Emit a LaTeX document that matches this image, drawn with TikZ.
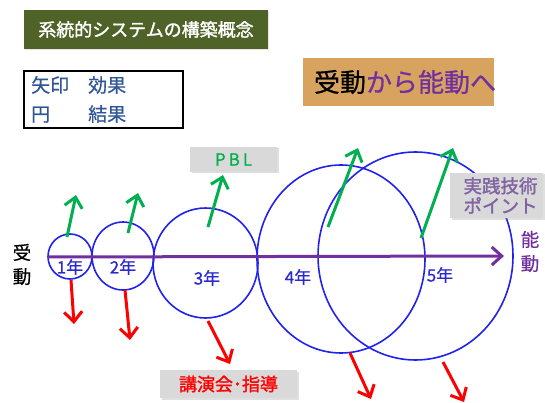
\documentclass[tikz,border=0pt]{standalone}
\usepackage{fontspec}
\setmainfont{Noto Sans CJK JP}[FakeBold=0.6]
\newfontfamily\heavy{Noto Sans CJK JP}[FakeBold=1.6]
\usetikzlibrary{arrows.meta,shapes.geometric,shadows}
\definecolor{titlegreen}{HTML}{4F6228}
\definecolor{corkfill}{HTML}{D8A35E}
\definecolor{axispurple}{HTML}{7030A0}
\definecolor{textpurple}{HTML}{8064A2}
\definecolor{circblue}{HTML}{2222EE}
\definecolor{yearblue}{HTML}{2A2AD0}
\definecolor{legendblue}{HTML}{2F5597}
\definecolor{effgreen}{HTML}{00B050}
\definecolor{effred}{HTML}{FF0000}
\definecolor{boxgray}{HTML}{D9D9D9}
\begin{document}
\begin{tikzpicture}[x=1pt,y=-1pt,
  yearcirc/.style={ellipse, draw=circblue, line width=1.6pt, inner sep=0pt},
  yearlabel/.style={text=yearblue, font=\fontsize{17}{17}\selectfont, inner sep=0pt},
  greenarr/.style={draw=effgreen, line width=3pt, -{Straight Barb[length=10pt,width=18pt]}},
  redarr/.style={draw=effred, line width=3pt, -{Straight Barb[length=10pt,width=18pt]}},
  graybox/.style={fill=boxgray, inner sep=0pt, drop shadow={shadow xshift=1.5pt, shadow yshift=-1.5pt, opacity=0.25}},
  sidelabel/.style={font=\fontsize{18.5}{24}\selectfont, align=center, inner sep=0pt}
]
\useasboundingbox[fill=white] (0,0) rectangle (545,403);

% title
\node[fill=titlegreen, minimum width=244pt, minimum height=39pt, inner sep=0pt,
      drop shadow={shadow xshift=1pt, shadow yshift=-1.5pt, opacity=0.2},
      text=white, font=\heavy\fontsize{18}{18}\selectfont] (title) at (146,29.5) {系統的システムの構築概念};

% legend
\node[draw=black, line width=1.2pt, minimum width=159pt, minimum height=57pt, inner sep=0pt] (legend) at (103.5,99.5) {};
\node[anchor=west, inner sep=0pt, text=legendblue, font=\fontsize{19}{19}\selectfont] (leg1) at (31,85) {矢印　効果};
\node[anchor=west, inner sep=0pt, text=legendblue, font=\fontsize{19}{19}\selectfont] (leg2) at (31,114) {円　　結果};

% passive to active
\node[fill=corkfill, minimum width=191pt, minimum height=48pt, inner sep=0pt] (motto) at (398.5,82) {};
\node[inner sep=0pt, font=\fontsize{26}{26}\selectfont] (mottotext) at (405,82) {受動\textcolor{axispurple}{から能動へ}};

% circles
\node[yearcirc, minimum width=44pt, minimum height=45pt] (c1) at (70,256.5) {};
\node[yearcirc, minimum width=62pt, minimum height=68pt] (c2) at (123,256) {};
\node[yearcirc, minimum width=105pt, minimum height=110pt] (c3) at (205.5,263) {};
\node[yearcirc, minimum width=168pt, minimum height=188pt] (c4) at (341,259) {};
\node[yearcirc, minimum width=195pt, minimum height=208pt] (c5) at (415.5,256) {};

% axis
\coordinate (axs) at (48,257);
\coordinate (axe) at (504,256);
\draw[draw=axispurple, line width=3pt, -{Straight Barb[length=10pt,width=18pt]}] (axs) -- (axe);

% year labels
\node[yearlabel] (y1) at (70,267) {1年};
\node[yearlabel] (y2) at (123,267) {2年};
\node[yearlabel] (y3) at (207,278) {3年};
\node[yearlabel] (y4) at (298,277) {4年};
\node[yearlabel] (y5) at (440,275) {5年};

% side labels
\node[sidelabel] (passive) at (22,264.5) {受\\動};
\node[sidelabel, text=axispurple] (active) at (530,251.5) {能\\動};

% boxes
\node[graybox, minimum width=87pt, minimum height=25pt, text=effgreen, font=\fontsize{17}{17}\selectfont] (pbl) at (233.5,159.5) {P\kern3pt B\kern3pt L};
\node[graybox, minimum width=93pt, minimum height=45pt, text=textpurple, align=center, font=\heavy\fontsize{18.5}{20}\selectfont] (jissen) at (496.5,195.5) {\hspace*{8pt}実践技術\\\hspace*{8pt}ポイント};
\node[graybox, minimum width=137pt, minimum height=28pt, text=effred, font=\heavy\fontsize{18}{18}\selectfont] (kouen) at (228.5,384) {講演会･指導};

% green arrows
\coordinate (g1s) at (67,237);  \coordinate (g1e) at (76,195);
\coordinate (g2s) at (128,233); \coordinate (g2e) at (138,193);
\coordinate (g3s) at (208,227); \coordinate (g3e) at (223,175);
\coordinate (g4s) at (328,227); \coordinate (g4e) at (358,148);
\coordinate (g5s) at (421,238); \coordinate (g5e) at (453,148);
\draw[greenarr] (g1s) -- (g1e);
\draw[greenarr] (g2s) -- (g2e);
\draw[greenarr] (g3s) -- (g3e);
\draw[greenarr] (g4s) -- (g4e);
\draw[greenarr] (g5s) -- (g5e);

% red arrows
\coordinate (r1s) at (71,280);  \coordinate (r1e) at (74,324);
\coordinate (r2s) at (125,290); \coordinate (r2e) at (130,340);
\coordinate (r3s) at (208,321); \coordinate (r3e) at (230,364);
\coordinate (r4s) at (350,353); \coordinate (r4e) at (371,399);
\coordinate (r5s) at (443,362); \coordinate (r5e) at (464,402);
\draw[redarr] (r1s) -- (r1e);
\draw[redarr] (r2s) -- (r2e);
\draw[redarr] (r3s) -- (r3e);
\draw[redarr] (r4s) -- (r4e);
\draw[redarr] (r5s) -- (r5e);
\end{tikzpicture}
\end{document}
